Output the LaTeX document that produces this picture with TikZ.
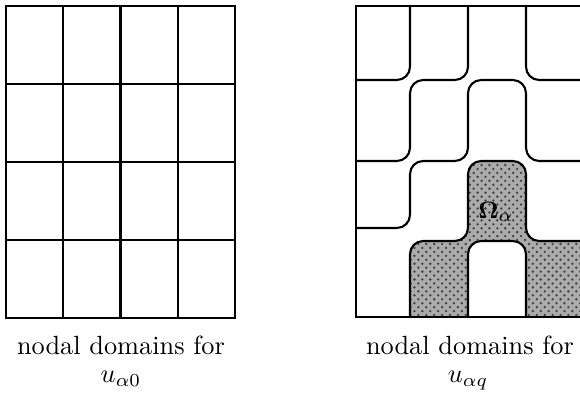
\documentclass[tikz,border=0pt]{standalone}
\usetikzlibrary{patterns}
\begin{document}
\begin{tikzpicture}[x=0.38pt,y=-0.38pt,
  line/.style={line width=0.8pt,black},
  curve/.style={line width=0.8pt,black,rounded corners=5pt},
  region/.style={fill=black!33},
  dots/.style={pattern=crosshatch dots,pattern color=black!75},
  caption/.style={anchor=base,inner sep=0pt,font=\fontsize{10}{12}\selectfont}]
\useasboundingbox (0,0) rectangle (580,394);
% ---- left panel: rectangular grid
\draw[line] (6,6) rectangle (235,318);
\foreach \x in {63.25,120.5,177.75} \draw[line] (\x,6) -- (\x,318);
\foreach \y in {84,162,240} \draw[line] (6,\y) -- (235,\y);
% ---- right panel
\def\xa{356}\def\xb{410}\def\xc{468}\def\xd{526}
\begin{scope}
\clip (\xa,6) rectangle (580,317);
% shaded nodal domain
\path[region,rounded corners=5pt] (\xb,340) -- (\xb,241) -- (\xc,241) -- (\xc,161) -- (\xd,161) -- (\xd,241) -- (620,241) -- (620,340) -- cycle;
\path[dots,rounded corners=5pt] (\xb,340) -- (\xb,241) -- (\xc,241) -- (\xc,161) -- (\xd,161) -- (\xd,241) -- (620,241) -- (620,340) -- cycle;
\path[fill=white,rounded corners=5pt] (\xc,340) -- (\xc,241) -- (\xd,241) -- (\xd,340) -- cycle;
% nodal lines
\draw[curve] (\xb,6) -- (\xb,80) -- (\xa,80);
\draw[curve] (\xc,6) -- (\xc,80) -- (\xb,80) -- (\xb,161) -- (\xa,161);
\draw[curve] (\xd,6) -- (\xd,80) -- (580,80);
\draw[curve] (\xa,228) -- (\xb,228) -- (\xb,161) -- (\xc,161) -- (\xc,80) -- (\xd,80) -- (\xd,161) -- (580,161);
\draw[curve] (\xb,340) -- (\xb,241) -- (\xc,241) -- (\xc,161) -- (\xd,161) -- (\xd,241) -- (620,241);
\draw[curve] (\xc,340) -- (\xc,241) -- (\xd,241) -- (\xd,340);
\end{scope}
\draw[line] (580,6) -- (\xa,6) -- (\xa,317) -- (580,317);
\node[inner sep=0pt,font={\fontsize{9.5}{11}\selectfont}] (omega) at (496,212) {$\mathbf{\Omega}_{\alpha}$};
% ---- captions
\node[caption] (capL) at (121,355) {nodal domains for};
\node[caption] (uL) at (121,383) {$u_{\alpha0}$};
\node[caption] (capR) at (470,355) {nodal domains for};
\node[caption] (uR) at (468,383) {$u_{\alpha q}$};
\end{tikzpicture}
\end{document}
